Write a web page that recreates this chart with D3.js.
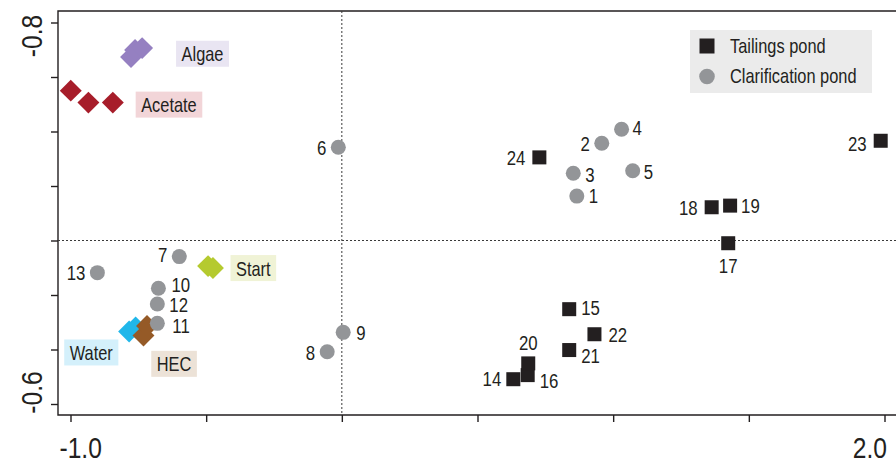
<!DOCTYPE html>
<html>
<head>
<meta charset="utf-8">
<script src="https://cdn.jsdelivr.net/npm/d3@7/dist/d3.min.js"></script>
<style>
  html, body { margin: 0; padding: 0; background: #fff; }
  svg { display: block; }
  text { font-family: "Liberation Sans", Arial, sans-serif; fill: #231f20; }
</style>
</head>
<body>
<svg id="chart" width="896" height="464"></svg>
<script>
// Sample scores: id, axis-1, axis-2
const clarificationIds = [1, 2, 3, 4, 5, 6, 7, 8, 9, 10, 11, 12, 13];
const clarificationX = [0.866, 0.958, 0.853, 1.031, 1.072, -0.013, -0.599, -0.054, 0.005, -0.676, -0.680, -0.680, -0.901];
const clarificationY = [0.163, 0.357, 0.247, 0.408, 0.256, 0.342, -0.059, -0.408, -0.337, -0.175, -0.304, -0.233, -0.118];

const tailingsIds = [14, 15, 16, 17, 18, 19, 20, 21, 22, 23, 24];
const tailingsX = [0.632, 0.838, 0.685, 1.424, 1.363, 1.431, 0.687, 0.838, 0.931, 1.986, 0.728];
const tailingsY = [-0.509, -0.252, -0.494, -0.010, 0.122, 0.128, -0.451, -0.402, -0.344, 0.366, 0.305];

// Treatment replicates
const treatments = ["Algae", "Acetate", "Start", "Water", "HEC"];
const treatmentX = [
  [-0.777, -0.762, -0.736],
  [-0.999, -0.934, -0.844],
  [-0.493, -0.475],
  [-0.784, -0.760],
  [-0.731, -0.718]
];
const treatmentY = [
  [0.673, 0.699, 0.706],
  [0.550, 0.506, 0.506],
  [-0.094, -0.101],
  [-0.334, -0.319],
  [-0.349, -0.314]
];

const xTickValues = [-1.0, -0.5, 0, 0.5, 1.0, 1.5, 2.0];
const yTickValues = [-0.6, -0.4, -0.2, 0, 0.2, 0.4, 0.6, 0.8];
const xTickLabels = ["-1.0", "", "", "", "", "", "2.0"];
const yTickLabels = ["-0.6", "", "", "", "", "", "", "-0.8"];

const legendLabels = ["Tailings pond", "Clarification pond"];

// ---- styles and placement ----
const NARROW = 0.82; // horizontal squeeze giving a condensed sans face
const treatmentColors = {
  Algae: "#9580c1", Acetate: "#a71d2a", Start: "#b5ca2f", Water: "#20b7ea", HEC: "#955a27"
};
const treatmentBoxColors = {
  Algae: "#e9e5f2", Acetate: "#f2d5d8", Start: "#f0f3d6", Water: "#d4f0fb", HEC: "#ece2d7"
};
// box anchor relative to replicate mean (pixels): [dx of box left/right edge, dy of box top, anchor side]
const treatmentLabelPlace = {
  Algae: [40, -11, "start"],
  Acetate: [45, -7, "start"],
  Start: [20, -12, "start"],
  Water: [-14, 10, "end"],
  HEC: [6, 20, "start"]
};
// number label offsets: [dx, dy, text-anchor]
const numPlace = {
  1: [12, 7, "start"], 2: [-12, 8, "end"], 3: [12, 9, "start"], 4: [11, 6, "start"],
  5: [11, 8, "start"], 6: [-12, 8, "end"], 7: [-12, 5, "end"], 8: [-12, 8, "end"],
  9: [13, 8, "start"], 10: [13, 4, "start"], 11: [15, 10, "start"], 12: [12, 8, "start"],
  13: [-12, 7, "end"], 14: [-12, 7, "end"], 15: [12, 6, "start"], 16: [12, 13, "start"],
  17: [0, 30, "middle"], 18: [-14, 8, "end"], 19: [11, 7, "start"], 20: [0, -13, "middle"],
  21: [12, 13, "start"], 22: [14, 8, "start"], 23: [-14, 10, "end"], 24: [-14, 8, "end"]
};

const svg = d3.select("#chart");
const frame = { left: 58, top: 11, bottom: 415, right: 900 };

const x = d3.scaleLinear().domain([-1, 2]).range([70.5, 884.5]);
const y = d3.scaleLinear().domain([-0.6, 0.8]).range([404, 22.5]);

// place a condensed text at (px, py)
function narrowAt(sel, px, py) {
  return sel.attr("x", null).attr("y", null).attr("dx", null).attr("dy", null)
    .attr("transform", function (d, i) {
      const a = typeof px === "function" ? px.call(this, d, i) : px;
      const b = typeof py === "function" ? py.call(this, d, i) : py;
      return `translate(${a},${b}) scale(${NARROW},1)`;
    });
}

// frame
svg.append("path")
  .attr("d", `M${frame.right},${frame.top}H${frame.left}V${frame.bottom}H${frame.right}`)
  .attr("fill", "none").attr("stroke", "#231f20").attr("stroke-width", 1.4);

// zero reference lines
svg.append("line")
  .attr("x1", x(0)).attr("x2", x(0)).attr("y1", frame.top).attr("y2", frame.bottom)
  .attr("stroke", "#3a3a3a").attr("stroke-width", 1).attr("stroke-dasharray", "2,2");
svg.append("line")
  .attr("x1", frame.left).attr("x2", 896).attr("y1", y(0)).attr("y2", y(0))
  .attr("stroke", "#3a3a3a").attr("stroke-width", 1).attr("stroke-dasharray", "2,2");

// x axis
const xAxis = svg.append("g").attr("transform", `translate(0,${frame.bottom})`)
  .call(d3.axisBottom(x).tickValues(xTickValues).tickSize(7)
    .tickFormat((d, i) => xTickLabels[i]));
xAxis.select(".domain").remove();
xAxis.selectAll("line").attr("stroke", "#231f20").attr("stroke-width", 1.4);
narrowAt(xAxis.selectAll("text"), (d, i) => i === 0 ? -11.5 : 2, 43)
  .attr("font-size", 30).attr("fill", "#231f20")
  .attr("text-anchor", (d, i) => i === 0 ? "start" : "end");

// y axis
const yAxis = svg.append("g").attr("transform", `translate(${frame.left},0)`)
  .call(d3.axisLeft(y).tickValues(yTickValues).tickSize(7)
    .tickFormat((d, i) => yTickLabels[i]));
yAxis.select(".domain").remove();
yAxis.selectAll("line").attr("stroke", "#231f20").attr("stroke-width", 1.4);
yAxis.selectAll("text")
  .attr("font-size", 30).attr("fill", "#231f20")
  .attr("x", null).attr("dy", null).attr("text-anchor", "middle")
  .attr("transform", (d, i) => `translate(-16,${i === 0 ? -12 : 13}) rotate(-90) scale(${NARROW},1)`);

const plot = svg.append("g");
const diamond = d3.symbol().type(d3.symbolSquare).size(15.5 * 15.5);

// treatment diamonds and their boxed names
treatments.forEach((name, k) => {
  const pts = treatmentX[k].map((v, j) => [v, treatmentY[k][j]]);
  plot.selectAll(null).data(pts).enter().append("path")
    .attr("d", diamond)
    .attr("transform", d => `translate(${x(d[0])},${y(d[1])}) rotate(45)`)
    .attr("fill", treatmentColors[name]);

  const mx = d3.mean(pts, d => x(d[0])), my = d3.mean(pts, d => y(d[1]));
  const [dx, dy, side] = treatmentLabelPlace[name];
  const g = plot.append("g");
  const rect = g.append("rect").attr("fill", treatmentBoxColors[name]);
  const padX = 5.5, boxH = 26;
  const t = g.append("text").text(name).attr("font-size", 20);
  const w = t.node().getComputedTextLength() * NARROW + padX * 2;
  const bx = side === "start" ? mx + dx : mx + dx - w;
  const by = my + dy;
  rect.attr("x", bx).attr("y", by).attr("width", w).attr("height", boxH);
  narrowAt(t, bx + padX, by + 20.5);
});

// clarification pond samples
const clar = clarificationIds.map((id, i) => ({ id, vx: clarificationX[i], vy: clarificationY[i] }));
plot.selectAll(null).data(clar).enter().append("circle")
  .attr("cx", d => x(d.vx)).attr("cy", d => y(d.vy)).attr("r", 7.5)
  .attr("fill", "#939598");

// tailings pond samples
const tail = tailingsIds.map((id, i) => ({ id, vx: tailingsX[i], vy: tailingsY[i] }));
const sq = 14;
plot.selectAll(null).data(tail).enter().append("rect")
  .attr("x", d => x(d.vx) - sq / 2).attr("y", d => y(d.vy) - sq / 2)
  .attr("width", sq).attr("height", sq)
  .attr("fill", "#231f20");

// sample numbers
narrowAt(
  plot.selectAll(null).data(clar.concat(tail)).enter().append("text")
    .attr("text-anchor", d => numPlace[d.id][2])
    .attr("font-size", 20.5)
    .text(d => d.id),
  d => x(d.vx) + numPlace[d.id][0],
  d => y(d.vy) + numPlace[d.id][1]);

// legend
const lg = svg.append("g").attr("transform", "translate(690,30)");
lg.append("rect").attr("width", 182).attr("height", 63).attr("fill", "#ebebeb");
lg.append("rect").attr("x", 9.5).attr("y", 8.5).attr("width", 15).attr("height", 15).attr("fill", "#231f20");
lg.append("circle").attr("cx", 17).attr("cy", 46.5).attr("r", 7.8).attr("fill", "#939598");
narrowAt(
  lg.selectAll(null).data(legendLabels).enter().append("text")
    .attr("font-size", 20)
    .text(d => d),
  40, (d, i) => 23 + i * 30);
</script>
</body>
</html>
